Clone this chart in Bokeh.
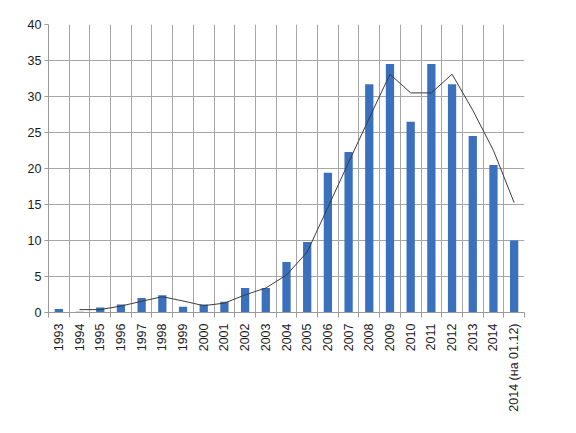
from bokeh.plotting import figure
from bokeh.models import FixedTicker, ColumnDataSource
from bokeh.embed import file_html
from bokeh.resources import INLINE

categories = ["1993", "1994", "1995", "1996", "1997", "1998", "1999", "2000",
              "2001", "2002", "2003", "2004", "2005", "2006", "2007", "2008",
              "2009", "2010", "2011", "2012", "2013", "2014", "2014 (на 01.12)"]
values = [0.5, 0.1, 0.7, 1.1, 2.0, 2.4, 0.8, 1.1, 1.5, 3.4, 3.4, 7.0, 9.8,
          19.4, 22.3, 31.7, 34.5, 26.5, 34.5, 31.7, 24.5, 20.5, 10.0]
# trend line (2-period moving average)
trend_categories = categories[1:]
trend_values = [0.4, 0.4, 0.9, 1.55, 2.2, 1.6, 0.95, 1.3, 2.45, 3.4, 5.2, 8.4,
                14.6, 20.85, 27.0, 33.1, 30.5, 30.5, 33.1, 28.1, 22.5, 15.25]
y_ticks = [0, 5, 10, 15, 20, 25, 30, 35, 40]

idx = {c: i for i, c in enumerate(categories)}
xs = [idx[c] for c in categories]
txs = [idx[c] for c in trend_categories]

n = len(categories)
p = figure(width=568, height=425, x_range=(-0.5, n - 0.5), y_range=(0, 40),
           output_backend="svg", toolbar_location=None,
           min_border_left=48, min_border_right=44, min_border_top=24,
           min_border_bottom=113)
p.background_fill_color = "white"
p.border_fill_color = "white"
p.outline_line_color = None

src = ColumnDataSource(dict(x=xs, top=values))
p.vbar(x="x", top="top", width=0.4, bottom=0, source=src,
       fill_color="#3a70bc", line_color=None)
p.line(txs, trend_values, line_color="#3c3c3c", line_width=1)

bounds = [i - 0.5 for i in range(n + 1)]
p.xaxis.ticker = FixedTicker(ticks=xs, minor_ticks=bounds)
p.xaxis.major_label_overrides = {i: c for i, c in enumerate(categories)}
p.xaxis.major_label_orientation = 3.14159265 / 2
p.xaxis.major_tick_out = 0
p.xaxis.major_tick_in = 0
p.xaxis.minor_tick_out = 5
p.xaxis.minor_tick_in = 0
p.xaxis.minor_tick_line_color = "#9a9a9a"
p.xaxis.axis_line_color = "#9a9a9a"
p.xaxis.major_label_standoff = 6

p.yaxis.ticker = FixedTicker(ticks=y_ticks)
p.yaxis.major_tick_out = 4
p.yaxis.major_tick_in = 0
p.yaxis.minor_tick_line_color = None
p.yaxis.major_tick_line_color = "#9a9a9a"
p.yaxis.axis_line_color = "#9a9a9a"
p.yaxis.major_label_standoff = 3

for ax in (p.xaxis, p.yaxis):
    ax.major_label_text_font = "Liberation Sans"
    ax.major_label_text_font_size = "12.5px"
    ax.major_label_text_color = "#1a1a1a"

p.xgrid.ticker = FixedTicker(ticks=bounds)
p.ygrid.ticker = FixedTicker(ticks=y_ticks)
for g in (p.xgrid, p.ygrid):
    g.grid_line_color = "#a6a6a6"
    g.grid_line_width = 1

open("out.html", "w").write(file_html(p, INLINE))
